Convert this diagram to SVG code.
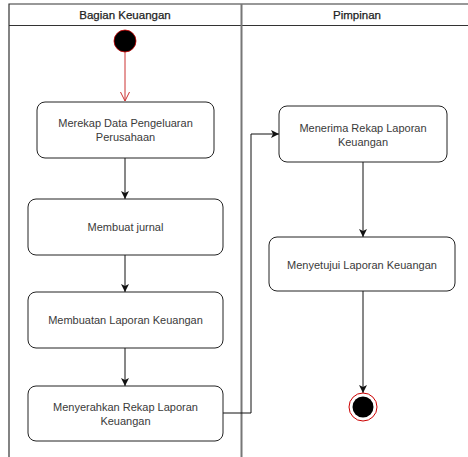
<svg xmlns="http://www.w3.org/2000/svg" width="468" height="457" viewBox="0 0 468 457">
<defs>
<style>
.lane{fill:none;stroke:#333;stroke-width:1.2}
.div{fill:none;stroke:#777;stroke-width:2}
.box{fill:#fff;stroke:#222;stroke-width:1}
.t{font-family:"Liberation Sans",Arial,sans-serif;font-size:11px;fill:#3a3a3a;text-anchor:middle}
.h{font-family:"Liberation Sans",Arial,sans-serif;font-size:11.5px;fill:#222;text-anchor:middle;stroke:#222;stroke-width:0.25}
.c{fill:none;stroke:#111;stroke-width:1}
</style>
<marker id="ah" markerWidth="10" markerHeight="10" refX="9" refY="5" orient="auto" markerUnits="userSpaceOnUse">
<path d="M1,1 L9,5 L1,9 L3,5 Z" fill="#111"/>
</marker>
<marker id="ar" markerWidth="12" markerHeight="12" refX="10" refY="6" orient="auto" markerUnits="userSpaceOnUse">
<path d="M1,1.5 L10,6 L1,10.5" fill="none" stroke="#c33" stroke-width="1"/>
</marker>
</defs>
<rect width="468" height="457" fill="#fff"/>
<g id="lanes">
<path class="lane" d="M9,460 L9,4 L475,4"/>
<line class="lane" x1="9" y1="25.5" x2="475" y2="25.5"/>
<line class="div" x1="241.5" y1="4" x2="241.5" y2="460"/>
<text class="h" x="125" y="19">Bagian Keuangan</text>
<text class="h" x="357" y="19">Pimpinan</text>
</g>
<g id="connectors">
<line x1="125" y1="52" x2="125" y2="101" stroke="#c33" stroke-width="1" marker-end="url(#ar)"/>
<line class="c" x1="125" y1="158" x2="125" y2="199" marker-end="url(#ah)"/>
<line class="c" x1="125" y1="255" x2="125" y2="292" marker-end="url(#ah)"/>
<line class="c" x1="125" y1="348" x2="125" y2="386" marker-end="url(#ah)"/>
<path class="c" d="M223,413 L251,413 L251,134 L279,134" marker-end="url(#ah)"/>
<line class="c" x1="363" y1="162" x2="363" y2="237" marker-end="url(#ah)"/>
<line class="c" x1="363" y1="291" x2="363" y2="393" marker-end="url(#ah)"/>
</g>
<g id="start">
<circle cx="125" cy="41" r="11" fill="#000" stroke="#c00" stroke-width="0.8"/>
</g>
<g id="n1">
<rect class="box" x="37" y="102" width="177" height="56" rx="8"/>
<text class="t" x="125.5" y="127">Merekap Data Pengeluaran</text>
<text class="t" x="125.5" y="141">Perusahaan</text>
</g>
<g id="n2">
<rect class="box" x="28" y="199" width="195" height="56" rx="8"/>
<text class="t" x="125.5" y="231">Membuat jurnal</text>
</g>
<g id="n3">
<rect class="box" x="28" y="292" width="195" height="56" rx="8"/>
<text class="t" x="125.5" y="324">Membuatan Laporan Keuangan</text>
</g>
<g id="n4">
<rect class="box" x="28" y="386" width="195" height="55" rx="8"/>
<text class="t" x="125.5" y="411">Menyerahkan Rekap Laporan</text>
<text class="t" x="125.5" y="425">Keuangan</text>
</g>
<g id="n5">
<rect class="box" x="279" y="106" width="168" height="56" rx="8"/>
<text class="t" x="363" y="132">Menerima Rekap Laporan</text>
<text class="t" x="363" y="146">Keuangan</text>
</g>
<g id="n6">
<rect class="box" x="269" y="237" width="186" height="54" rx="8"/>
<text class="t" x="362" y="269">Menyetujui Laporan Keuangan</text>
</g>
<g id="end">
<circle cx="363" cy="407" r="14" fill="#fff" stroke="#c00" stroke-width="1"/>
<circle cx="363" cy="407" r="10.5" fill="#000"/>
</g>
</svg>
